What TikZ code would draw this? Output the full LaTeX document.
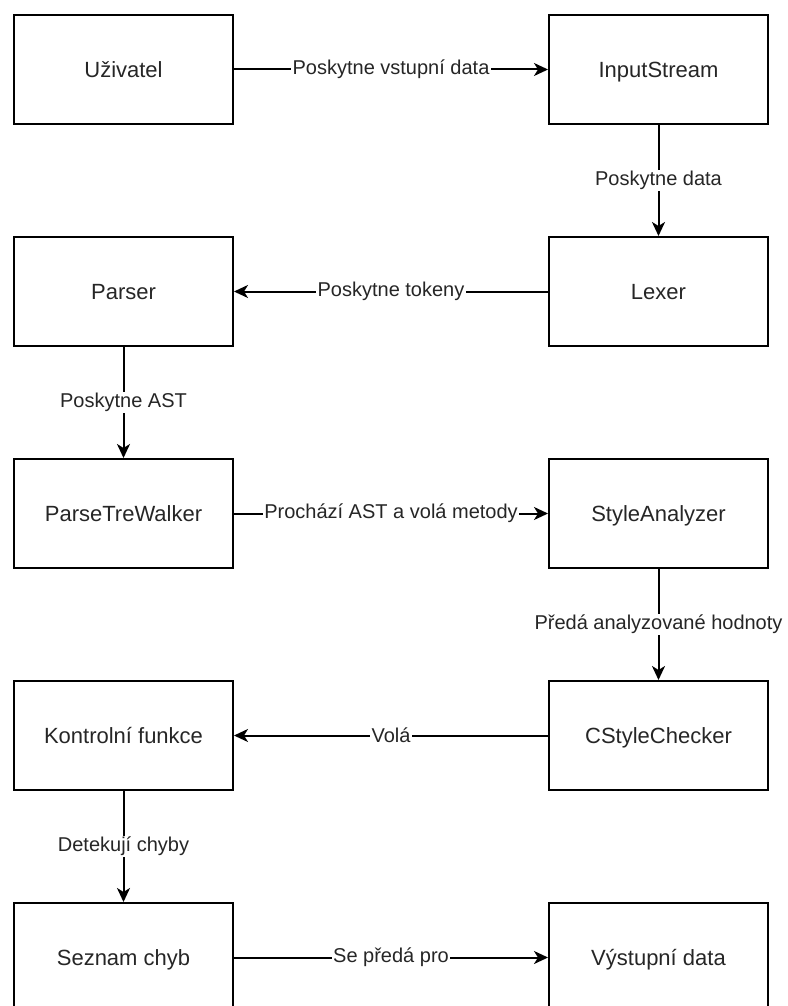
\documentclass[tikz,border=0pt]{standalone}
\usepackage{fontspec}
\setmainfont{Liberation Sans}
\usetikzlibrary{arrows.meta}
\begin{document}
\begin{tikzpicture}[x=1pt,y=-1pt,>={Stealth[length=14pt,width=13pt,inset=4pt]},
    box/.style={draw,line width=2pt,minimum width=219pt,minimum height=109pt,
      text height=20pt,text depth=4pt,text=black!85,font=\fontsize{22}{26}\selectfont},
    lbl/.style={fill=white,inner sep=1.5pt,text=black!85,font=\fontsize{20}{24}\selectfont},
    edge/.style={->,line width=2pt}]
  \useasboundingbox (0,0) rectangle (787,1006);
  \clip (0,0) rectangle (787,1006);
  % left column
  \node[box] (user)    at (123.5,69.5)  {Uživatel};
  \node[box] (parser)  at (123.5,291.5) {Parser};
  \node[box] (walker)  at (123.5,513.5) {ParseTreWalker};
  \node[box] (control) at (123.5,735.5) {Kontrolní funkce};
  \node[box] (errors)  at (123.5,957.5) {Seznam chyb};
  % right column
  \node[box] (input)   at (658.5,69.5)  {InputStream};
  \node[box] (lexer)   at (658.5,291.5) {Lexer};
  \node[box] (style)   at (658.5,513.5) {StyleAnalyzer};
  \node[box] (checker) at (658.5,735.5) {CStyleChecker};
  \node[box] (output)  at (658.5,957.5) {Výstupní data};
  % connectors
  \draw[edge] (user) -- node[lbl]{Poskytne vstupní data} (input);
  \draw[edge] (input) -- node[lbl]{Poskytne data} (lexer);
  \draw[edge] (lexer) -- node[lbl]{Poskytne tokeny} (parser);
  \draw[edge] (parser) -- node[lbl]{Poskytne AST} (walker);
  \draw[edge] (walker) -- node[lbl]{Prochází AST a volá metody} (style);
  \draw[edge] (style) -- node[lbl]{Předá analyzované hodnoty} (checker);
  \draw[edge] (checker) -- node[lbl]{Volá} (control);
  \draw[edge] (control) -- node[lbl]{Detekují chyby} (errors);
  \draw[edge] (errors) -- node[lbl]{Se předá pro} (output);
\end{tikzpicture}
\end{document}
